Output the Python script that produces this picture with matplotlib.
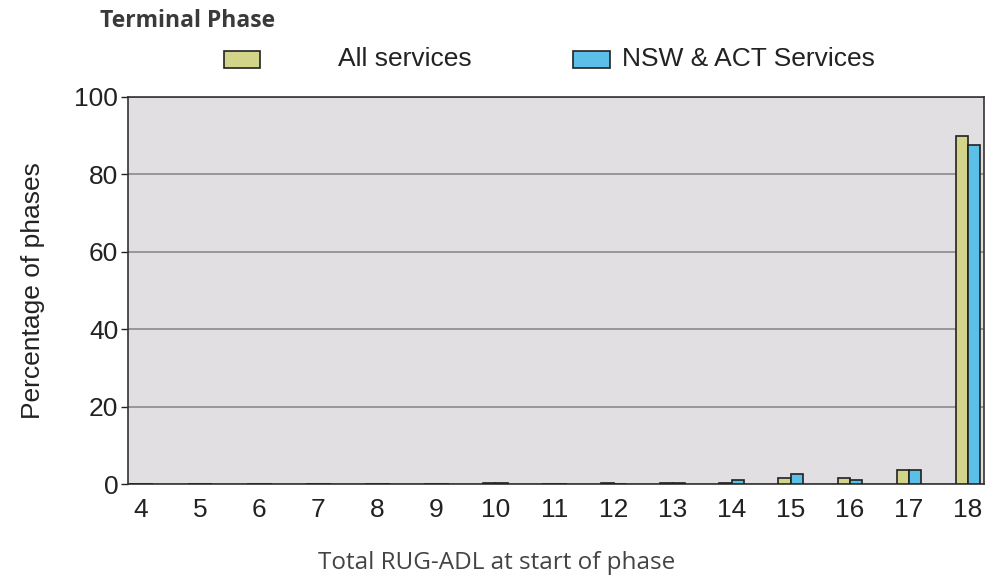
import numpy as np
import matplotlib.pyplot as plt
from matplotlib.patches import Rectangle

rug_adl = [4, 5, 6, 7, 8, 9, 10, 11, 12, 13, 14, 15, 16, 17, 18]
all_services = [0, 0, 0, 0, 0, 0, 0.3, 0, 0.3, 0.3, 0.3, 1.5, 1.5, 3.6, 90.0]
nsw_act = [0, 0, 0, 0, 0, 0, 0.3, 0, 0.1, 0.3, 1.0, 2.6, 1.0, 3.6, 87.5]

yellow = '#d2d48a'
blue = '#5bbfe8'

fig = plt.figure(figsize=(9.97, 5.77), dpi=100)
ax = fig.add_axes([0.1284, 0.161, 0.8586, 0.671])
ax.set_facecolor('#e1dfe1')

x = np.array(rug_adl)
w = 0.21
ax.bar(x - w / 2, all_services, width=w, color=yellow, edgecolor='#222222', linewidth=1.2, zorder=3)
ax.bar(x + w / 2, nsw_act, width=w, color=blue, edgecolor='#222222', linewidth=1.2, zorder=3)

ax.set_xlim(3.78, 18.27)
ax.set_ylim(0, 100)
ax.set_yticks([0, 20, 40, 60, 80, 100])
ax.set_xticks(rug_adl)
ax.yaxis.grid(True, color='#8a8a8a', linewidth=1.2, zorder=0)
ax.set_axisbelow(True)
ax.tick_params(axis='y', length=5, width=1, labelsize=19, colors='#222222', pad=2)
ax.tick_params(axis='x', length=0, labelsize=19, colors='#222222', pad=10)
for lab in ax.get_xticklabels() + ax.get_yticklabels():
    lab.set_fontfamily('Liberation Sans')
for s in ax.spines.values():
    s.set_color('#333333')
    s.set_linewidth(1.2)

ax.set_ylabel('Percentage of phases', fontsize=19, family='Liberation Sans', color='#222222')
ax.yaxis.set_label_coords(-0.097, 0.5)
fig.text(0.498, 1 - 563 / 577, 'Total RUG-ADL at start of phase', ha='center', va='center',
         fontsize=17.5, family='Open Sans', color='#444444')
fig.text(0.1, 1 - 21 / 577, 'Terminal Phase', ha='left', va='center', fontsize=16.5,
         family='Open Sans', fontweight='bold', color='#3a3a3a')

# legend drawn by hand to keep the original spacing
fig.add_artist(Rectangle((224 / 997, 1 - 68 / 577), 36 / 997, 17 / 577, transform=fig.transFigure,
                         facecolor=yellow, edgecolor='#222222', linewidth=1.2))
fig.text(338 / 997, 1 - 59 / 577, 'All services', ha='left', va='center', fontsize=19,
         family='Liberation Sans', color='#222222')
fig.add_artist(Rectangle((573 / 997, 1 - 68 / 577), 37 / 997, 17 / 577, transform=fig.transFigure,
                         facecolor=blue, edgecolor='#222222', linewidth=1.2))
fig.text(622 / 997, 1 - 59 / 577, 'NSW & ACT Services', ha='left', va='center', fontsize=19,
         family='Liberation Sans', color='#222222')

fig.savefig('out.png', dpi=100)
